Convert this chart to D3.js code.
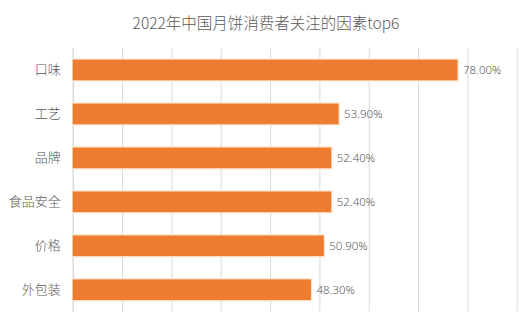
<!DOCTYPE html>
<html>
<head>
<meta charset="utf-8">
<script src="https://cdn.jsdelivr.net/npm/d3@7/dist/d3.min.js"></script>
<style>
  html, body { margin: 0; padding: 0; background: #fff; }
  svg { display: block; }
  text { font-family: "Noto Sans CJK SC", "Noto Sans", sans-serif; }
</style>
</head>
<body>
<svg id="chart" width="531" height="327"></svg>
<script>
// Factors Chinese mooncake consumers care about, 2022 (share, %)
const categories = ["口味", "工艺", "品牌", "食品安全", "价格", "外包装"];
const values = [78.00, 53.90, 52.40, 52.40, 50.90, 48.30];
const gridTicks = [0, 10, 20, 30, 40, 50, 60, 70, 80, 90];
const title = "2022年中国月饼消费者关注的因素top6";

const svg = d3.select("#chart");
const margin = { top: 48, right: 14.3, bottom: 15.3, left: 72.7 };
const width = 531 - margin.left - margin.right;
const height = 327 - margin.top - margin.bottom;

const x = d3.scaleLinear().domain([0, 90]).range([0, width]);
const y = d3.scaleBand().domain(categories).range([0, height]).paddingInner(0.53).paddingOuter(0.265);

svg.append("text")
  .attr("x", 266)
  .attr("y", 22)
  .attr("text-anchor", "middle")
  .attr("dominant-baseline", "central")
  .attr("font-size", 15.5)
  .attr("font-weight", 300)
  .attr("fill", "#595959")
  .text(title);

const g = svg.append("g").attr("transform", `translate(${margin.left},${margin.top})`);

// vertical gridlines (no tick labels)
g.append("g")
  .call(d3.axisBottom(x).tickValues(gridTicks).tickSize(height).tickFormat(""))
  .call(a => a.select(".domain").remove())
  .call(a => a.selectAll(".tick line").attr("stroke", "#d9d9d9").attr("stroke-width", 1));

// category axis
g.append("g")
  .call(d3.axisLeft(y).tickSize(0).tickPadding(12))
  .call(a => a.select(".domain").attr("stroke", "#d9d9d9"))
  .call(a => a.selectAll(".tick text")
    .attr("font-size", 13)
    .attr("font-weight", 300)
    .attr("fill", "#595959")
    .style("font-family", '"Noto Sans CJK SC", sans-serif'));

const rows = categories.map((c, i) => ({ c, v: values[i] }));

// soft halo around each bar
g.selectAll("rect.halo").data(rows).join("rect")
  .attr("class", "halo")
  .attr("x", 0)
  .attr("y", d => y(d.c) - 1.2)
  .attr("width", d => x(d.v) + 1.2)
  .attr("height", y.bandwidth() + 2.4)
  .attr("fill", "#fde4cc");

g.selectAll("rect.bar").data(rows).join("rect")
  .attr("class", "bar")
  .attr("x", 0)
  .attr("y", d => y(d.c))
  .attr("width", d => x(d.v))
  .attr("height", y.bandwidth())
  .attr("fill", "#ee7d31");

g.selectAll("text.val").data(rows).join("text")
  .attr("class", "val")
  .attr("x", d => x(d.v) + 5.5)
  .attr("y", d => y(d.c) + y.bandwidth() / 2)
  .attr("dominant-baseline", "central")
  .attr("font-size", 11.5)
  .attr("font-weight", 300)
  .attr("fill", "#595959")
  .style("font-family", '"Noto Sans", sans-serif')
  .text(d => d.v.toFixed(2) + "%");
</script>
</body>
</html>
